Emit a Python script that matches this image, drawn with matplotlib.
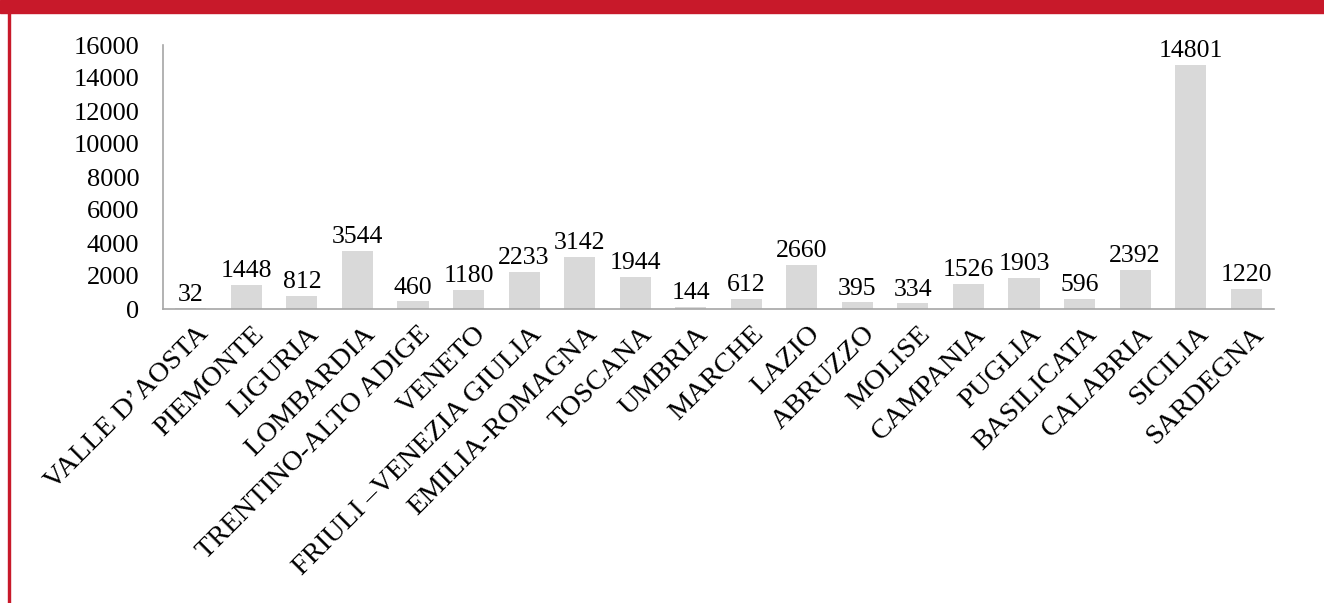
import matplotlib.pyplot as plt
import matplotlib.transforms as mtransforms
from matplotlib.patches import Rectangle

regions = ["VALLE D\u2019AOSTA", "PIEMONTE", "LIGURIA", "LOMBARDIA", "TRENTINO-ALTO ADIGE",
           "VENETO", "FRIULI \u2013VENEZIA GIULIA", "EMILIA-ROMAGNA", "TOSCANA", "UMBRIA",
           "MARCHE", "LAZIO", "ABRUZZO", "MOLISE", "CAMPANIA", "PUGLIA", "BASILICATA",
           "CALABRIA", "SICILIA", "SARDEGNA"]
values = [32, 1448, 812, 3544, 460, 1180, 2233, 3142, 1944, 144,
          612, 2660, 395, 334, 1526, 1903, 596, 2392, 14801, 1220]
yticks = [0, 2000, 4000, 6000, 8000, 10000, 12000, 14000, 16000]

plt.rcParams['font.family'] = ['Liberation Serif', 'DejaVu Serif']

W, H = 1324, 603
fig = plt.figure(figsize=(W / 100, H / 100), dpi=100)
ax = fig.add_axes([163 / W, 1 - 309 / H, (1274 - 163) / W, (309 - 45) / H])

x = list(range(len(regions)))
ax.bar(x, values, width=0.56, color='#d9d9d9')
for xi, v in zip(x, values):
    ax.annotate(str(v), (xi, v), xytext=(0, 2), textcoords='offset points',
                ha='center', va='bottom', fontsize=18.5)

ax.set_xlim(-0.5, len(regions) - 0.5)
ax.set_ylim(0, 16000)
ax.set_yticks(yticks)
ax.set_yticklabels([str(t) for t in yticks], fontsize=19)
ax.set_xticks(x)
ax.set_xticklabels(regions, rotation=45, ha='right', rotation_mode='anchor', fontsize=20.5)
ax.tick_params(axis='y', length=0, pad=17)
ax.tick_params(axis='x', length=0, pad=9)
shift = mtransforms.ScaledTranslation(5 / 100, 0, fig.dpi_scale_trans)
for lab in ax.get_xticklabels():
    lab.set_transform(lab.get_transform() + shift)
for s in ['top', 'right']:
    ax.spines[s].set_visible(False)
for s in ['left', 'bottom']:
    ax.spines[s].set_color('#a6a6a6')
    ax.spines[s].set_linewidth(1.2)

# red frame pieces
red = '#c8192a'
fig.patches.append(Rectangle((0, 1 - 13 / H), 1, 13 / H, transform=fig.transFigure,
                             color=red, zorder=0))
fig.patches.append(Rectangle((8 / W, 0), 2 / W, 1, transform=fig.transFigure,
                             color=red, zorder=0))

fig.savefig('out.png', dpi=100)
